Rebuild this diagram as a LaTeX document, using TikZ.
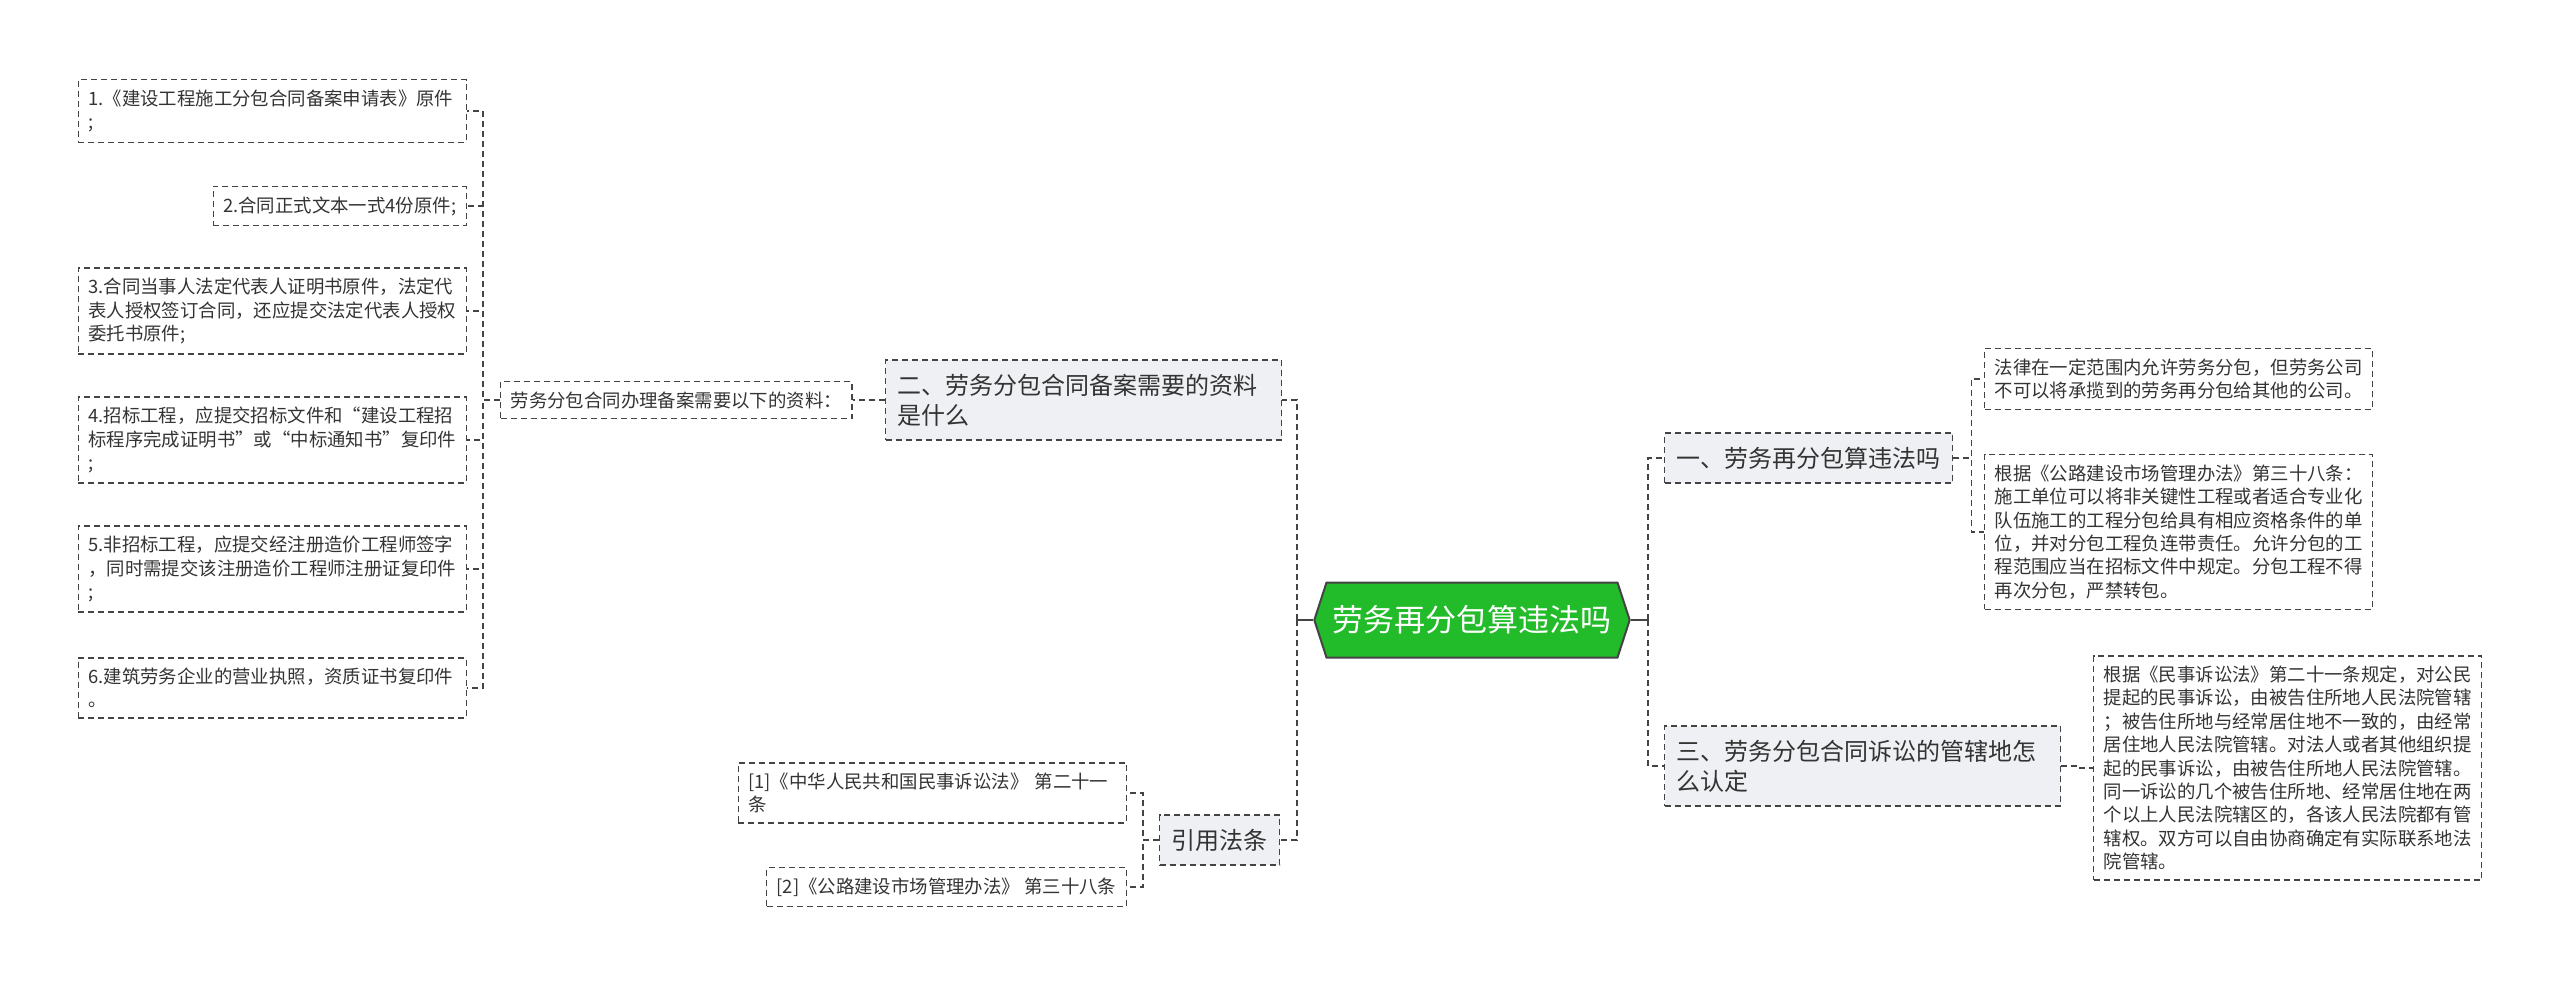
\documentclass[tikz,border=0pt]{standalone}
\usepackage{fontspec}
\setmainfont{Noto Sans CJK SC}
\usetikzlibrary{shapes.symbols}
\definecolor{topicfill}{HTML}{EEF0F3}
\definecolor{hubgreen}{HTML}{22BB2A}
\definecolor{linegray}{HTML}{444444}
\definecolor{inkgray}{HTML}{333333}

\tikzset{
  leaf/.style={draw=linegray, dash pattern=on 3pt off 2pt, line width=0.7pt,
    inner xsep=5pt, inner ysep=5pt, align=left, text=inkgray,
    font=\fontsize{9.2}{11.7}\selectfont},
  wide/.style={leaf, text width=184pt},
  topic/.style={leaf, fill=topicfill, inner xsep=6pt, inner ysep=7pt,
    font=\fontsize{12}{15}\selectfont},
  link/.style={draw=linegray, dash pattern=on 3pt off 2pt, line width=0.9pt},
  hub/.style={draw=linegray, line width=1pt}
}

\begin{document}
\begin{tikzpicture}[x=0.5pt,y=-0.5pt]
  \useasboundingbox (0,0) rectangle (2560,987);
  % centre
  \node[signal, signal to=west and east, signal pointer angle=144,
    fill=hubgreen, draw=linegray, line width=1pt, text=white,
    font=\fontsize{15.5}{18}\selectfont, minimum height=37.5pt,
    inner xsep=3pt] (c) at (1472,620) {劳务再分包算违法吗};
  \coordinate (lt) at (1297,620);
  \coordinate (rt) at (1648,620);

  % left branch
  \node[topic, text width=186pt, anchor=west] (q2) at (885,400) {二、劳务分包合同备案需要的资料\\是什么};
  \node[leaf, anchor=west] (need) at (500,400) {劳务分包合同办理备案需要以下的资料：};
  \node[wide, anchor=east] (b1) at (467,111) {1.《建设工程施工分包合同备案申请表》原件\\;};
  \node[leaf, anchor=east] (b2) at (467,206) {2.合同正式文本一式4份原件;};
  \node[wide, anchor=east] (b3) at (467,311) {3.合同当事人法定代表人证明书原件，法定代\\表人授权签订合同，还应提交法定代表人授权\\委托书原件;};
  \node[wide, anchor=east] (b4) at (467,440) {4.招标工程，应提交招标文件和“建设工程招\\标程序完成证明书”或“中标通知书”复印件\\;};
  \node[wide, anchor=east] (b5) at (467,569) {5.非招标工程，应提交经注册造价工程师签字\\，同时需提交该注册造价工程师注册证复印件\\;};
  \node[wide, anchor=east] (b6) at (467,688) {6.建筑劳务企业的营业执照，资质证书复印件\\。};

  \node[topic, anchor=west] (cite) at (1159,840) {引用法条};
  \node[wide, anchor=east] (ref1) at (1127,793) {[1]《中华人民共和国民事诉讼法》 第二十一\\条};
  \node[leaf, anchor=east] (ref2) at (1127,887) {[2]《公路建设市场管理办法》 第三十八条};

  % right branch
  \node[topic, anchor=west] (q1) at (1664,458) {一、劳务再分包算违法吗};
  \node[wide, anchor=west] (r1) at (1984,379) {法律在一定范围内允许劳务分包，但劳务公司\\不可以将承揽到的劳务再分包给其他的公司。};
  \node[wide, anchor=west] (r2) at (1984,532) {根据《公路建设市场管理办法》第三十八条：\\施工单位可以将非关键性工程或者适合专业化\\队伍施工的工程分包给具有相应资格条件的单\\位，并对分包工程负连带责任。允许分包的工\\程范围应当在招标文件中规定。分包工程不得\\再次分包，严禁转包。};
  \node[topic, text width=186pt, anchor=west] (q3) at (1664,766) {三、劳务分包合同诉讼的管辖地怎\\么认定};
  \node[wide, anchor=west] (r3) at (2093,768) {根据《民事诉讼法》第二十一条规定，对公民\\提起的民事诉讼，由被告住所地人民法院管辖\\；被告住所地与经常居住地不一致的，由经常\\居住地人民法院管辖。对法人或者其他组织提\\起的民事诉讼，由被告住所地人民法院管辖。\\同一诉讼的几个被告住所地、经常居住地在两\\个以上人民法院辖区的，各该人民法院都有管\\辖权。双方可以自由协商确定有实际联系地法\\院管辖。};

  % connectors
  \draw[hub] (c.west) -- (lt);
  \draw[hub] (c.east) -- (rt);
  \draw[link] (lt) |- (q2.east);
  \draw[link] (lt) |- (cite.east);
  \draw[link] (rt) |- (q1.west);
  \draw[link] (rt) |- (q3.west);
  \draw[link] (q2.west) -- ++(-17,0) |- (need.east);
  \foreach \i in {1,...,6}
    \draw[link] (need.west) -- ++(-17,0) |- (b\i.east);
  \foreach \i in {1,2}
    \draw[link] (cite.west) -- ++(-16,0) |- (ref\i.east);
  \foreach \i in {1,2}
    \draw[link] (q1.east) -- ++(18,0) |- (r\i.west);
  \draw[link] (q3.east) -- ++(16,0) |- (r3.west);
\end{tikzpicture}
\end{document}
